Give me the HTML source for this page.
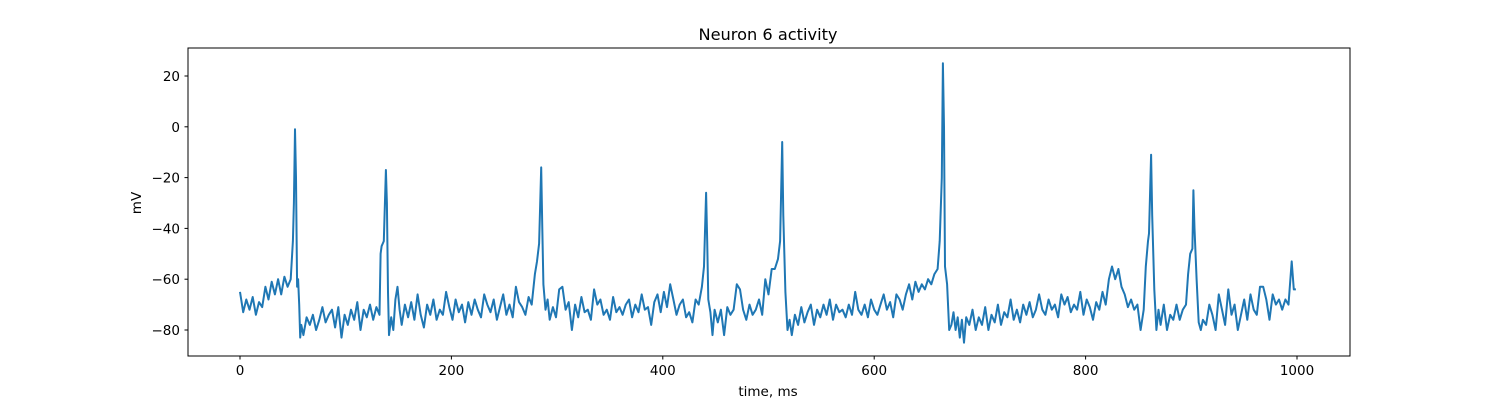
<!DOCTYPE html>
<html><head><meta charset="utf-8"><style>
html,body{margin:0;padding:0;background:#fff;}
svg text{font-family:"DejaVu Sans","Liberation Sans",sans-serif;fill:#000;}
</style></head><body>
<svg id="chart" width="1500" height="400" xmlns="http://www.w3.org/2000/svg">
<rect width="1500" height="400" fill="#fff"/>
<text x="768" y="40" font-size="16.2" text-anchor="middle">Neuron 6 activity</text>
<g id="xt"></g>
<g id="yt"></g>
<path id="trace" fill="none" stroke="#1f77b4" stroke-width="2" stroke-linejoin="round"/>
<rect x="188" y="48" width="1162" height="308" fill="none" stroke="#000" stroke-width="1"/>
<text x="768" y="396" font-size="13.5" text-anchor="middle">time, ms</text>
<text x="141" y="203" font-size="13.5" text-anchor="middle" transform="rotate(-90 141 203)">mV</text>
</svg>
<script>
const times=[0,3,6,9,12,15,18,21,24,27,30,33,36,39,42,45,48,50,51,52,53,54,55,56,57,58,60,63,66,69,72,75,78,81,84,87,90,93,96,99,102,105,108,111,114,117,120,123,126,129,132,133,134,136,138,139,140,141,143,145,147,149,151,153,156,159,162,165,168,171,174,177,180,183,186,189,192,195,198,201,204,207,210,213,216,219,222,225,228,231,234,237,240,243,246,249,252,255,258,261,264,267,270,273,276,279,281,283,285,286,287,289,291,293,296,299,302,305,308,311,314,317,320,323,326,329,332,335,338,341,344,347,350,353,356,359,362,365,368,371,374,377,380,383,386,389,392,395,398,401,404,407,410,413,416,419,422,425,428,431,434,437,439,441,442,443,445,447,449,452,455,458,461,464,467,470,473,476,479,482,485,488,491,494,497,500,503,506,509,511,513,514,516,518,520,522,525,528,531,534,537,540,543,546,549,552,555,558,561,564,567,570,573,576,579,582,585,588,591,594,597,600,603,606,609,612,615,618,621,624,627,630,633,636,639,642,645,648,651,654,657,660,662,664,665,666,667,669,671,673,675,677,679,681,683,685,687,690,693,696,699,702,705,708,711,714,717,720,723,726,729,732,735,738,741,744,747,750,753,756,759,762,765,768,771,774,777,780,783,786,789,792,795,798,801,804,807,810,813,816,819,822,825,828,831,834,837,840,843,846,849,852,855,857,859,860,862,863,865,867,869,871,874,877,880,883,886,889,892,895,897,899,901,902,903,905,907,909,911,914,917,920,923,926,929,932,935,938,941,944,947,950,953,956,959,962,965,968,971,974,977,980,983,986,989,992,995,997,999];
const volts=[-65,-73,-68,-72,-67,-74,-69,-71,-63,-68,-61,-66,-60,-66,-59,-63,-60,-45,-30,-1,-20,-63,-60,-70,-83,-78,-82,-75,-78,-74,-80,-76,-71,-77,-74,-72,-79,-71,-83,-74,-78,-72,-76,-69,-80,-72,-75,-70,-76,-71,-74,-50,-47,-45,-17,-30,-65,-82,-75,-80,-68,-63,-72,-78,-70,-75,-69,-76,-66,-74,-79,-70,-74,-68,-76,-72,-74,-65,-71,-76,-68,-73,-70,-77,-69,-74,-68,-72,-75,-66,-70,-73,-68,-76,-71,-66,-74,-70,-75,-63,-69,-71,-74,-67,-70,-58,-53,-46,-16,-40,-62,-72,-68,-76,-71,-75,-64,-63,-72,-69,-80,-70,-75,-67,-73,-72,-76,-64,-70,-68,-74,-72,-76,-67,-73,-71,-74,-70,-68,-75,-70,-73,-66,-72,-71,-78,-69,-66,-73,-65,-71,-62,-68,-74,-70,-68,-75,-73,-77,-68,-70,-63,-55,-26,-45,-68,-73,-82,-72,-77,-72,-82,-71,-74,-72,-62,-64,-72,-76,-70,-74,-72,-68,-74,-60,-66,-56,-56,-52,-45,-6,-35,-65,-80,-76,-82,-74,-78,-71,-77,-73,-70,-78,-72,-75,-70,-74,-68,-76,-70,-73,-72,-75,-70,-74,-65,-72,-74,-70,-75,-68,-72,-74,-70,-66,-72,-69,-75,-66,-68,-72,-66,-62,-68,-61,-65,-62,-64,-60,-62,-58,-56,-45,-20,25,0,-55,-62,-80,-78,-73,-80,-75,-83,-76,-85,-75,-78,-72,-80,-75,-78,-71,-80,-74,-77,-70,-78,-73,-75,-68,-76,-72,-77,-70,-74,-69,-75,-72,-66,-72,-74,-68,-72,-70,-75,-66,-70,-67,-73,-70,-72,-65,-74,-68,-71,-76,-69,-72,-65,-70,-60,-55,-60,-56,-63,-66,-71,-68,-72,-70,-80,-72,-55,-45,-42,-11,-35,-64,-80,-72,-78,-70,-80,-74,-76,-70,-76,-72,-70,-58,-50,-48,-25,-40,-60,-77,-80,-76,-78,-70,-74,-80,-66,-72,-78,-64,-74,-70,-80,-74,-68,-76,-66,-72,-74,-63,-63,-68,-76,-66,-70,-68,-72,-68,-70,-53,-64,-64];
const xTicks=[0,200,400,600,800,1000];
const yTicks=[-80,-60,-40,-20,0,20];
const NS="http://www.w3.org/2000/svg";
const xScale=t=>240+t*(1297-240)/1000;
const yScale=v=>76+(20-v)*(330-76)/100;
const xt=document.getElementById('xt'),yt=document.getElementById('yt');
for(const t of xTicks){
  const l=document.createElementNS(NS,'line');
  
  
  l.setAttribute('x1',xScale(t));l.setAttribute('x2',xScale(t));l.setAttribute('y1',356);l.setAttribute('y2',359.5);l.setAttribute('stroke','#000');
  xt.appendChild(l);
  const tx=document.createElementNS(NS,'text');
  
  
  tx.setAttribute('x',xScale(t));tx.setAttribute('y',375);tx.setAttribute('font-size','13.5');tx.setAttribute('text-anchor','middle');
  tx.textContent=t;xt.appendChild(tx);
}
for(const v of yTicks){
  const l=document.createElementNS(NS,'line');
  
  
  l.setAttribute('x1',184.5);l.setAttribute('x2',188);l.setAttribute('y1',yScale(v));l.setAttribute('y2',yScale(v));l.setAttribute('stroke','#000');
  yt.appendChild(l);
  const tx=document.createElementNS(NS,'text');
  
  
  tx.setAttribute('x',180);tx.setAttribute('y',yScale(v)+5);tx.setAttribute('font-size','13.5');tx.setAttribute('text-anchor','end');
  tx.textContent=v<0?'\u2212'+(-v):v;yt.appendChild(tx);
}
let d='';
for(let i=0;i<times.length;i++){d+=(i?'L':'M')+xScale(times[i]).toFixed(1)+','+yScale(volts[i]).toFixed(1);}
document.getElementById('trace').setAttribute('d',d);
</script>
</body></html>
